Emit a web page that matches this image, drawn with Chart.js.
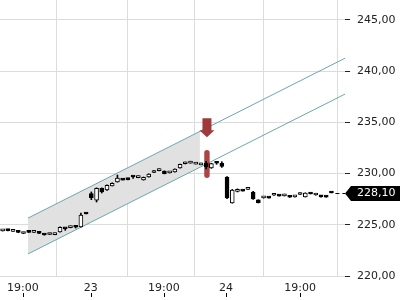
<!DOCTYPE html>
<html>
<head>
<meta charset="utf-8">
<script src="https://cdn.jsdelivr.net/npm/chart.js@4"></script>
<style>
  html, body { margin: 0; padding: 0; background: #fff; }
  #chart { display: block; }
</style>
</head>
<body>
<canvas id="chart" width="400" height="300" role="img" aria-label="Candlestick chart with a rising channel, sell signal and last price 228,10"></canvas>
<script>
// candles, one per slot
const opens = [224.40, 224.52, 224.35, 224.35, 224.15, 224.33, 224.26, 224.28, 224.10, 224.05,
  224.04, 224.30, 224.62, 224.72, 224.82, 224.78, 226.08, 228.05, 227.41, 228.55,
  228.40, 228.80, 229.17, 229.38, 229.50, 229.68, 229.60, 229.37, 229.66, 230.10,
  230.28, 230.24, 230.06, 230.15, 230.54, 230.95, 231.02, 230.92, 230.85, 231.00,
  230.55, 231.02, 231.00, 229.66, 227.12, 228.25, 228.30, 228.45, 228.20, 227.42,
  227.62, 227.62, 227.88, 227.82, 227.82, 227.82, 227.72, 227.95, 227.72, 228.02,
  227.90, 227.84, 227.80, 228.12]
const highs = [224.52, 224.55, 224.55, 224.37, 224.27, 224.36, 224.40, 224.30, 224.12, 224.18,
  224.19, 224.80, 224.64, 224.87, 224.84, 226.15, 226.08, 228.20, 228.60, 228.60,
  228.90, 229.10, 229.85, 229.38, 229.52, 229.70, 229.78, 229.66, 229.98, 230.28,
  230.46, 230.26, 230.20, 230.46, 230.93, 231.12, 231.20, 231.08, 231.02, 231.20,
  231.00, 231.15, 231.15, 229.70, 228.45, 228.50, 228.30, 228.62, 228.25, 227.44,
  227.76, 227.62, 228.04, 227.82, 227.98, 227.84, 227.86, 228.12, 228.12, 228.02,
  228.05, 227.86, 227.82, 228.12]
const lows = [224.38, 224.40, 224.35, 224.22, 224.13, 224.24, 224.25, 224.14, 223.98, 224.04,
  224.02, 224.28, 224.45, 224.70, 224.68, 224.76, 226.05, 227.45, 227.22, 228.10,
  228.35, 228.78, 229.15, 229.36, 229.38, 229.52, 229.58, 229.35, 229.64, 230.08,
  230.26, 229.96, 230.04, 230.13, 230.52, 230.93, 231.00, 230.92, 230.83, 230.45,
  230.50, 230.90, 230.60, 227.55, 227.10, 228.20, 228.28, 228.44, 227.48, 227.12,
  227.60, 227.60, 227.86, 227.80, 227.80, 227.66, 227.70, 227.95, 227.70, 228.00,
  227.88, 227.70, 227.68, 228.10]
const closes = [224.50, 224.42, 224.37, 224.25, 224.25, 224.26, 224.30, 224.16, 224.00, 224.10,
  224.17, 224.75, 224.60, 224.85, 224.76, 225.95, 226.05, 227.65, 228.55, 228.20,
  228.85, 229.05, 229.56, 229.36, 229.40, 229.66, 229.66, 229.62, 229.95, 230.16,
  230.34, 229.98, 230.18, 230.44, 230.90, 231.00, 231.08, 230.94, 231.00, 230.65,
  230.98, 231.00, 230.70, 227.61, 228.39, 228.35, 228.28, 228.50, 227.51, 227.15,
  227.74, 227.60, 227.92, 227.80, 227.96, 227.68, 227.84, 227.97, 228.10, 228.00,
  227.94, 227.72, 227.70, 228.10]

const xTickPos = [3.9, 16.9, 30.9, 42.8, 57.0]
const xTickLabels = ['19:00', '23', '19:00', '24', '19:00']
const yTicks = [220, 225, 230, 235, 240, 245]
const xRange = [-0.5, 65.6]
const yRange = [220, 246.93]

// trend channel and shaded zone
const channelX = [4.86, 65.6]
const channelUpper = [225.65, 241.25]
const channelLower = [222.15, 237.75]
const shadeX = [4.86, 37.8]
const shadeUpper = [225.65, 234.11]
const shadeLower = [222.15, 230.61]

// sell signal and last price
const signalAt = 39.15
const signalArrow = [235.39, 233.53]
const signalBar = [232.3, 229.56]
const lastPrice = 228.10

const fmt = v => v.toFixed(2).replace('.', ',')
const slots = opens.map((_, i) => i)
const pts = (xs, ys) => xs.map((x, i) => ({ x, y: ys[i] }))

const overlay = {
  id: 'overlay',
  beforeDatasetDraw(chart, args) {
    if (args.index !== 4) return
    const { ctx, scales: { x, y } } = chart
    const cx = x.getPixelForValue(signalAt)
    const top = y.getPixelForValue(signalBar[0])
    const bot = y.getPixelForValue(signalBar[1])
    ctx.save()
    ctx.fillStyle = 'rgba(165,52,52,0.92)'
    ctx.beginPath()
    ctx.roundRect(cx - 2.7, top, 5.4, bot - top, 2.7)
    ctx.fill()
    ctx.restore()
  },
  afterDatasetsDraw(chart) {
    const { ctx, chartArea, scales: { x, y } } = chart
    const cx = x.getPixelForValue(signalAt)
    const top = y.getPixelForValue(signalArrow[0])
    const tip = y.getPixelForValue(signalArrow[1])
    ctx.save()
    ctx.fillStyle = '#a03a3a'
    ctx.beginPath()
    ctx.moveTo(cx - 4.5, top)
    ctx.lineTo(cx + 4.5, top)
    ctx.lineTo(cx + 4.5, tip - 7)
    ctx.lineTo(cx + 7.5, tip - 7)
    ctx.lineTo(cx, tip)
    ctx.lineTo(cx - 7.5, tip - 7)
    ctx.lineTo(cx - 4.5, tip - 7)
    ctx.closePath()
    ctx.fill()

    // dashed last-price line
    const yp = Math.round(y.getPixelForValue(lastPrice)) + 0.5
    const lastX = x.getPixelForValue(slots[slots.length - 1])
    ctx.strokeStyle = '#000'
    ctx.lineWidth = 1
    ctx.setLineDash([4, 3])
    ctx.beginPath()
    ctx.moveTo(lastX + 4, yp)
    ctx.lineTo(chartArea.right, yp)
    ctx.stroke()
    ctx.restore()
  },
  afterDraw(chart) {
    const { ctx, chartArea, scales: { x, y } } = chart
    ctx.save()
    // small tick marks under the time labels
    ctx.strokeStyle = '#000'
    ctx.lineWidth = 1
    x.ticks.forEach(t => {
      const px = Math.round(x.getPixelForValue(t.value)) + 0.5
      ctx.beginPath()
      ctx.moveTo(px, x.bottom - 7)
      ctx.lineTo(px, x.bottom - 3)
      ctx.stroke()
    })
    // price tag
    const yp = Math.round(y.getPixelForValue(lastPrice)) + 0.5
    const l = chartArea.right
    ctx.fillStyle = '#000'
    ctx.beginPath()
    ctx.moveTo(l, yp)
    ctx.lineTo(l + 6, yp - 7.5)
    ctx.lineTo(chart.width, yp - 7.5)
    ctx.lineTo(chart.width, yp + 7.5)
    ctx.lineTo(l + 6, yp + 7.5)
    ctx.closePath()
    ctx.fill()
    ctx.fillStyle = '#fff'
    ctx.font = '11px "DejaVu Sans"'
    ctx.textBaseline = 'middle'
    ctx.textAlign = 'left'
    ctx.fillText(fmt(lastPrice), l + 12, yp)
    ctx.restore()
  }
}

Chart.defaults.font.family = '"DejaVu Sans", sans-serif'
Chart.defaults.font.size = 11
Chart.defaults.color = '#222'

new Chart(document.getElementById('chart'), {
  type: 'bar',
  data: {
    datasets: [
      { type: 'line', data: pts(shadeX, shadeUpper), borderWidth: 0, pointRadius: 0,
        fill: '+1', backgroundColor: '#e1e1e1', order: 6 },
      { type: 'line', data: pts(shadeX, shadeLower), borderWidth: 0, pointRadius: 0,
        fill: false, order: 6 },
      { type: 'line', data: pts(channelX, channelUpper), borderColor: '#6aa8ad', borderWidth: 1,
        pointRadius: 0, fill: false, order: 4 },
      { type: 'line', data: pts(channelX, channelLower), borderColor: '#6aa8ad', borderWidth: 1,
        pointRadius: 0, fill: false, order: 4 },
      { data: slots.map(i => ({ x: i, y: [lows[i], highs[i]] })), backgroundColor: '#000',
        borderWidth: 0, barThickness: 1, minBarLength: 1, grouped: false, order: 2 },
      { data: slots.map(i => ({ x: i, y: [opens[i], closes[i]] })),
        backgroundColor: slots.map(i => closes[i] >= opens[i] ? '#fff' : '#000'),
        borderColor: '#000', borderWidth: 1, borderSkipped: false,
        barThickness: 4, minBarLength: 2, grouped: false, order: 1 }
    ]
  },
  options: {
    responsive: false,
    animation: false,
    events: [],
    layout: { padding: 0 },
    plugins: { legend: { display: false }, tooltip: { enabled: false } },
    scales: {
      x: {
        type: 'linear',
        min: xRange[0],
        max: xRange[1],
        offset: false,
        grid: { color: '#dcdcdc', drawTicks: false },
        border: { display: false },
        ticks: {
          autoSkip: false, maxRotation: 0, padding: 6,
          callback: (v, i) => xTickLabels[i]
        },
        afterBuildTicks: s => { s.ticks = xTickPos.map(v => ({ value: v })) },
        afterFit: s => { s.height = 24; s.paddingLeft = 0; s.paddingRight = 0 }
      },
      y: {
        position: 'right',
        min: yRange[0],
        max: yRange[1],
        grid: { color: '#dcdcdc', tickLength: 5, tickColor: '#222' },
        border: { display: false },
        ticks: { padding: 7, callback: v => fmt(v) },
        afterBuildTicks: s => { s.ticks = yTicks.map(v => ({ value: v })) },
        afterFit: s => { s.width = 55; s.paddingTop = 0; s.paddingBottom = 0 }
      }
    }
  },
  plugins: [overlay]
})
</script>
</body>
</html>
